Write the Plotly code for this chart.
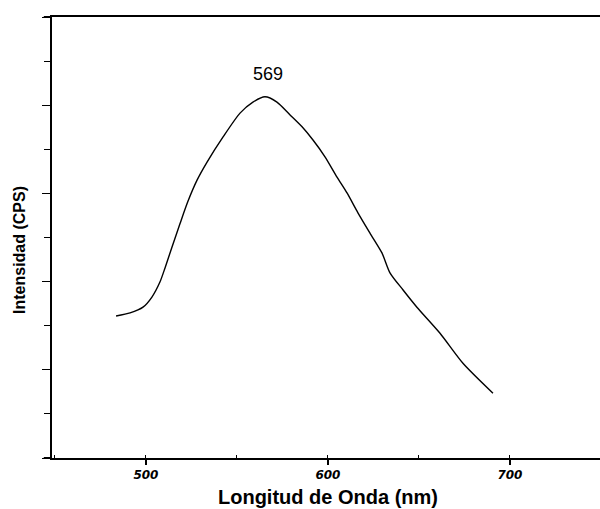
import plotly.graph_objects as go

# Emission spectrum
wavelength_nm = [483.6, 491.3, 498.4, 503.3, 507.7, 510.5, 514.3, 518.7, 523.1, 528.1,
                 533.6, 542.4, 551.7, 558.8, 565.4, 572.0, 579.2, 585.8, 591.8, 598.4,
                 605.0, 610.5, 616.5, 623.1, 629.7, 634.1, 641.3, 648.9, 661.6, 674.2,
                 690.7]
intensity = [3.22, 3.29, 3.42, 3.65, 3.99, 4.31, 4.78, 5.31, 5.82, 6.30,
             6.71, 7.28, 7.82, 8.07, 8.19, 8.07, 7.78, 7.51, 7.21, 6.83,
             6.37, 6.01, 5.56, 5.10, 4.65, 4.20, 3.81, 3.42, 2.83, 2.15,
             1.47]

x_tick_vals = [500, 600, 700]
x_tick_text = ["500", "600", "700"]
peak_label = "569"
peak_pos = 567.3
peak_label_y = 8.71

x_title = "Longitud de Onda (nm)"
y_title = "Intensidad (CPS)"

FONT = "Liberation Sans, Arial, sans-serif"

fig = go.Figure()
fig.add_trace(go.Scatter(
    x=wavelength_nm, y=intensity, mode="lines",
    line=dict(color="black", width=1.4, shape="spline", smoothing=0.7),
    showlegend=False, hoverinfo="skip",
))

fig.update_layout(
    width=600, height=509,
    margin=dict(l=52, r=0, t=17, b=51),
    paper_bgcolor="white", plot_bgcolor="white",
    font=dict(family=FONT, color="black"),
    xaxis=dict(
        range=[448.4, 749.5],
        showgrid=False, zeroline=False,
        showline=True, linecolor="black", linewidth=2, mirror=True,
        ticks="outside", ticklen=5, tickwidth=1.5, tickcolor="black",
        tickvals=x_tick_vals,
        ticktext=["<b><i>%s</i></b>" % t for t in x_tick_text],
        tickfont=dict(size=12, family="DejaVu Sans, sans-serif"),
        minor=dict(dtick=50, tick0=500, ticks="inside", ticklen=3, tickwidth=1.2,
                   tickcolor="black", showgrid=False),
    ),
    yaxis=dict(
        range=[0, 10.0],
        showgrid=False, zeroline=False,
        showline=True, linecolor="black", linewidth=2, mirror=False,
        ticks="outside", ticklen=8, tickwidth=1.2, tickcolor="black",
        dtick=2, tick0=0, showticklabels=False,
        minor=dict(dtick=1, tick0=0, ticks="outside", ticklen=6, tickwidth=1.2,
                   tickcolor="black", showgrid=False),
    ),
    shapes=[
        dict(type="line", xref="paper", yref="paper", x0=-0.015, x1=0, y0=1, y1=1,
             line=dict(color="black", width=2)),
        dict(type="line", xref="paper", yref="paper", x0=-0.015, x1=0, y0=0, y1=0,
             line=dict(color="black", width=2)),
    ],
    annotations=[
        dict(x=peak_pos, y=peak_label_y, xref="x", yref="y", text=peak_label,
             showarrow=False, font=dict(size=18, family=FONT, color="black"),
             xanchor="center", yanchor="middle"),
        dict(x=0.5036, y=-0.0884, xref="paper", yref="paper",
             text="<b>%s</b>" % x_title, showarrow=False,
             font=dict(size=20, family=FONT, color="black"),
             xanchor="center", yanchor="middle"),
        dict(x=-0.0584, y=0.4717, xref="paper", yref="paper",
             text="<b>%s</b>" % y_title, showarrow=False, textangle=-90,
             font=dict(size=16, family=FONT, color="black"),
             xanchor="center", yanchor="middle"),
    ],
)

fig.write_html(
    "out.html",
    config={"displayModeBar": False},
    post_script="document.body.style.margin='0px';document.body.style.overflow='hidden';",
)
